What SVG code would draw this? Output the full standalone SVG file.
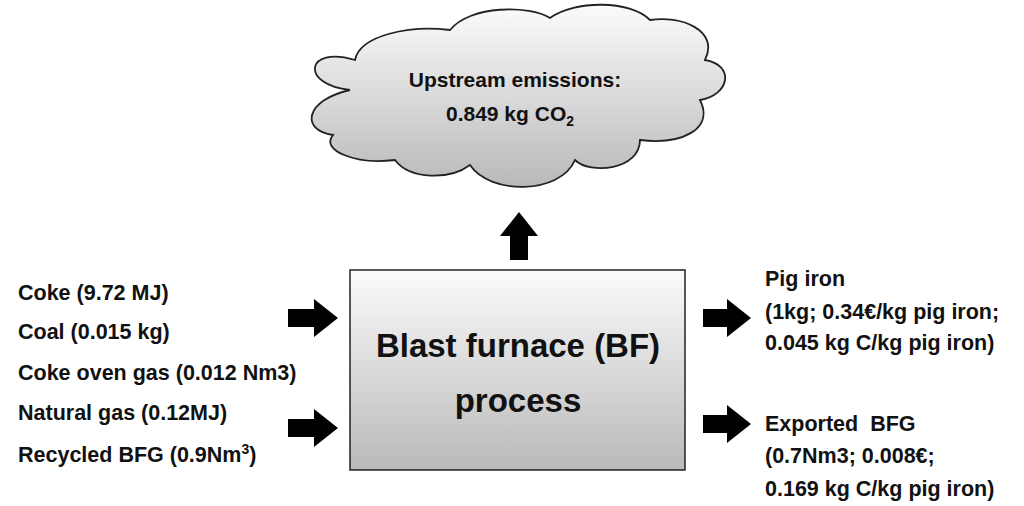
<svg xmlns="http://www.w3.org/2000/svg" width="1024" height="506" viewBox="0 0 1024 506">
<style>
text{font-family:"Liberation Sans",Arial,sans-serif;font-weight:bold;fill:#111}
.l{font-size:21.5px}
.arr{fill:#000}
</style>
<defs>
<linearGradient id="g" x1="0" y1="0" x2="0" y2="1"><stop offset="0" stop-color="#fbfbfb"/><stop offset="1" stop-color="#b9b9b9"/></linearGradient>
</defs>
<rect width="1024" height="506" fill="#fff"/>
<g id="cloud">
<path d="M350,90 C300,85 305,45 355,60 C360,35 410,25 450,30 C470,5 530,5 550,18 C575,0 630,0 650,20 C680,15 720,30 705,60 C735,65 730,95 700,100 C715,130 680,145 640,140 C640,170 590,175 575,160 C560,195 490,195 470,165 C450,180 410,180 395,160 C355,165 320,150 333,135 C300,130 305,100 350,90 Z" fill="url(#g)" stroke="#222" stroke-width="1.8"/>
<text x="515" y="87" text-anchor="middle" font-size="21">Upstream emissions:</text>
<text x="510" y="121" text-anchor="middle" font-size="21">0.849 kg CO<tspan font-size="14" dy="5">2</tspan></text>
</g>
<g id="bf">
<rect x="350" y="270" width="335" height="200" fill="url(#g)" stroke="#222" stroke-width="1.5"/>
<text x="518" y="357" text-anchor="middle" font-size="33">Blast furnace (BF)</text>
<text x="518" y="412" text-anchor="middle" font-size="33">process</text>
</g>
<g id="inputs">
<text class="l" x="18" y="300">Coke (9.72 MJ)</text>
<text class="l" x="18" y="339">Coal (0.015 kg)</text>
<text class="l" x="18" y="380">Coke oven gas (0.012 Nm3)</text>
<text class="l" x="18" y="420">Natural gas (0.12MJ)</text>
<text class="l" x="18" y="462">Recycled BFG (0.9Nm<tspan font-size="14" dy="-8">3</tspan><tspan dy="8">)</tspan></text>
</g>
<g id="pig">
<text class="l" x="765" y="286">Pig iron</text>
<text class="l" x="765" y="319">(1kg; 0.34€/kg pig iron;</text>
<text class="l" x="765" y="350">0.045 kg C/kg pig iron)</text>
</g>
<g id="bfg">
<text class="l" x="765" y="431" xml:space="preserve">Exported  BFG</text>
<text class="l" x="765" y="463">(0.7Nm3; 0.008€;</text>
<text class="l" x="765" y="496">0.169 kg C/kg pig iron)</text>
</g>
<g id="connectors" class="arr">
<polygon points="510,260 510,236 500,236 519,212 538,236 528,236 528,260"/>
<polygon points="288,309 314,309 314,299 338,318 314,337 314,327 288,327"/>
<polygon points="288,419 314,419 314,409 338,428 314,447 314,437 288,437"/>
<polygon points="703,309 727,309 727,299 751,318 727,337 727,327 703,327"/>
<polygon points="703,415 727,415 727,405 751,424 727,443 727,433 703,433"/>
</g>
</svg>
